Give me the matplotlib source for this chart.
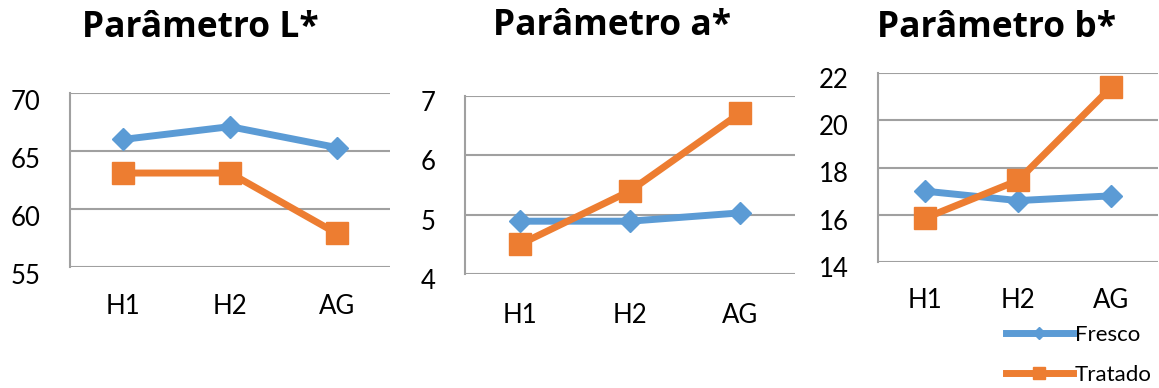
import matplotlib
matplotlib.use("Agg")
import matplotlib.pyplot as plt
from matplotlib.transforms import ScaledTranslation

plt.rcParams["font.family"] = ["Lato", "DejaVu Sans"]

# Data
categories = ["H1", "H2", "AG"]
L_fresco = [66.0, 67.1, 65.3]
L_tratado = [63.1, 63.1, 57.9]
a_fresco = [4.89, 4.89, 5.03]
a_tratado = [4.5, 5.4, 6.71]
b_fresco = [17.0, 16.6, 16.8]
b_tratado = [15.85, 17.45, 21.4]

titles = ["Parâmetro L*", "Parâmetro a*", "Parâmetro b*"]
ylims = [(55, 70), (4, 7), (14, 22)]
yticks = [[55, 60, 65, 70], [4, 5, 6, 7], [14, 16, 18, 20, 22]]

blue = "#5B9BD5"
orange = "#ED7D31"
grid_color = "#A0A0A0"

W, H = 1159, 388
fig = plt.figure(figsize=(W / 100, H / 100), dpi=100)

# axes boxes in pixels: left, top, right, bottom
boxes = [(70, 93, 390, 267), (465, 96, 795, 274), (878, 73, 1158, 262)]
title_pos = [(200, 37), (612, 35), (996, 37)]
xlab_y = [309, 318, 303]
ylab_shift = [7, 5, 5]

series = [(L_fresco, L_tratado), (a_fresco, a_tratado), (b_fresco, b_tratado)]

axes = []
for i, (l, t, r, b) in enumerate(boxes):
    ax = fig.add_axes([l / W, 1 - b / H, (r - l) / W, (b - t) / H])
    fresco, tratado = series[i]
    x = range(len(categories))
    ax.plot(x, fresco, color=blue, lw=5, marker="D", ms=11,
            label="Fresco", zorder=3)
    ax.plot(x, tratado, color=orange, lw=5, marker="s", ms=16,
            label="Tratado", zorder=4)
    ax.set_xlim(-0.5, len(categories) - 0.5)
    ax.set_ylim(*ylims[i])
    ax.set_yticks(yticks[i])
    ax.set_xticks(list(x))
    ax.set_xticklabels(categories)
    ax.grid(axis="y", color=grid_color, lw=1.5)
    ax.set_axisbelow(True)
    for s in ["top", "right", "bottom"]:
        ax.spines[s].set_visible(False)
    ax.spines["left"].set_color(grid_color)
    ax.spines["left"].set_linewidth(1.5)
    ax.tick_params(length=0, labelsize=18.5, colors="black")
    ax.tick_params(axis="y", pad=21)
    ax.tick_params(axis="x", pad=(xlab_y[i] - 15 - b) * 0.72)
    shift = ScaledTranslation(0, -ylab_shift[i] / 100, fig.dpi_scale_trans)
    for lab in ax.get_yticklabels():
        lab.set_transform(lab.get_transform() + shift)
    fig.text(title_pos[i][0] / W, 1 - title_pos[i][1] / H, titles[i],
             ha="center", va="baseline", fontsize=25.5, fontweight="bold",
             family=["Open Sans", "DejaVu Sans"])
    axes.append(ax)

leg = axes[2].legend(loc="upper left", bbox_to_anchor=(1006 / W, 1 - 325 / H),
                     bbox_transform=fig.transFigure, frameon=False,
                     fontsize=16, handlelength=3.0, handletextpad=0.1,
                     labelspacing=0.9, borderpad=0, borderaxespad=0,
                     markerscale=0.55)

fig.savefig("out.png", dpi=100)
